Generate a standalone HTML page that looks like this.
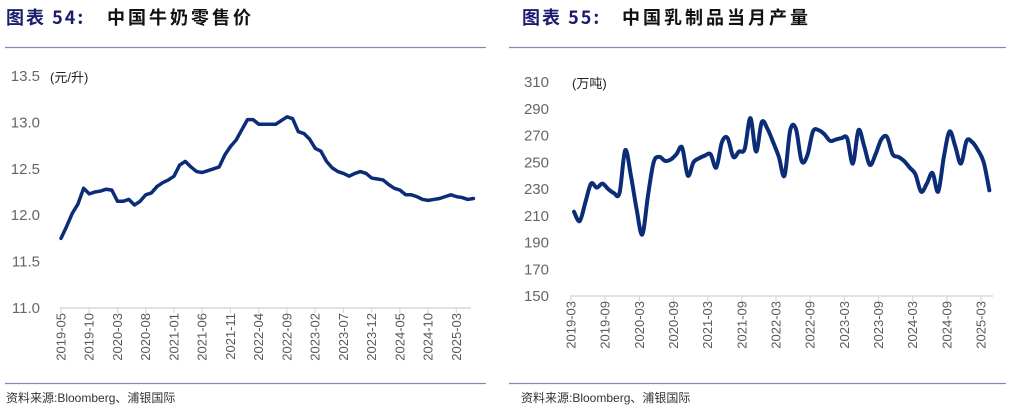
<!DOCTYPE html>
<html><head><meta charset="utf-8"><style>
body{margin:0;background:#fff;width:1012px;height:410px;overflow:hidden}
svg{display:block;font-family:"Liberation Sans","Noto Sans CJK SC",sans-serif}
</style></head><body>
<svg id="c" width="1012" height="410" viewBox="0 0 1012 410" xmlns="http://www.w3.org/2000/svg">
<g>
<text x="6" y="24" font-size="18" font-weight="bold" fill="#1c1c6e" letter-spacing="2" font-family="'Noto Sans CJK SC',sans-serif">图表 54:</text>
<text x="107" y="24" font-size="18" font-weight="bold" fill="#111" letter-spacing="3" font-family="'Noto Sans CJK SC',sans-serif">中国牛奶零售价</text>
<line x1="5" y1="47.5" x2="486" y2="47.5" stroke="#8a86b8" stroke-width="1.3"/>
<line x1="5" y1="383.5" x2="486" y2="383.5" stroke="#8a86b8" stroke-width="1.3"/>
<text x="6" y="402" font-size="12" fill="#333">资料来源:Bloomberg、浦银国际</text>
</g>
<g>
<text x="522" y="24" font-size="18" font-weight="bold" fill="#1c1c6e" letter-spacing="2" font-family="'Noto Sans CJK SC',sans-serif">图表 55:</text>
<text x="622" y="24" font-size="18" font-weight="bold" fill="#111" letter-spacing="3" font-family="'Noto Sans CJK SC',sans-serif">中国乳制品当月产量</text>
<line x1="509" y1="47.5" x2="1006" y2="47.5" stroke="#8a86b8" stroke-width="1.3"/>
<line x1="509" y1="383.5" x2="1006" y2="383.5" stroke="#8a86b8" stroke-width="1.3"/>
<text x="521" y="402" font-size="12" fill="#333">资料来源:Bloomberg、浦银国际</text>
</g>
<g id="L"></g><g id="R"></g>
</svg>
<script>
// Left chart data (monthly from 2019-05)
const milkPrice = [11.75,11.88,12.02,12.12,12.29,12.23,12.25,12.26,12.28,12.27,12.15,12.15,12.17,12.11,12.15,12.22,12.24,12.31,12.35,12.38,12.42,12.54,12.58,12.52,12.47,12.46,12.48,12.50,12.52,12.65,12.74,12.81,12.92,13.03,13.03,12.98,12.98,12.98,12.98,13.02,13.06,13.04,12.90,12.88,12.82,12.72,12.69,12.58,12.51,12.47,12.45,12.42,12.45,12.47,12.45,12.40,12.39,12.38,12.33,12.29,12.27,12.22,12.22,12.20,12.17,12.16,12.17,12.18,12.20,12.22,12.20,12.19,12.17,12.18];
const leftYTicks = [11.0,11.5,12.0,12.5,13.0,13.5];
const leftXLabels = ["2019-05","2019-10","2020-03","2020-08","2021-01","2021-06","2021-11","2022-04","2022-09","2023-02","2023-07","2023-12","2024-05","2024-10","2025-03"];
// Right chart data (monthly from 2019-03)
const dairyOutput = [213,206,220,234,231,234,230,227,227,259,240,215,196,225,250,254,251,252,256,261,240,250,253,255,256,246,265,268,254,258,260,283,258,280,275,265,254,240,274,275,251,255,273,274,271,266,267,268,268,249,274,262,248,256,267,269,256,254,251,246,241,228,234,242,228,254,273,262,249,266,265,259,250,229];
const rightYTicks = [150,170,190,210,230,250,270,290,310];
const rightXLabels = ["2019-03","2019-09","2020-03","2020-09","2021-03","2021-09","2022-03","2022-09","2023-03","2023-09","2024-03","2024-09","2025-03"];

const NS="http://www.w3.org/2000/svg";
function mk(p,t,a){const e=document.createElementNS(NS,t);for(const k in a)e.setAttribute(k,a[k]);p.appendChild(e);return e;}
function smooth(pts){let d="M"+pts[0][0]+","+pts[0][1];for(let i=0;i<pts.length-1;i++){const p0=pts[i-1]||pts[i],p1=pts[i],p2=pts[i+1],p3=pts[i+2]||p2;d+=" C"+(p1[0]+(p2[0]-p0[0])/6)+","+(p1[1]+(p2[1]-p0[1])/6)+" "+(p2[0]-(p3[0]-p1[0])/6)+","+(p2[1]-(p3[1]-p1[1])/6)+" "+p2[0]+","+p2[1];}return d;}

function chart(g,o){
  const y=v=>o.y0-(v-o.ymin)/(o.ymax-o.ymin)*(o.y0-o.y1);
  const x=i=>o.dx0+i*o.pm;
  let e=mk(g,"line",{x1:o.ax0,y1:o.y0,x2:o.ax1,y2:o.y0,stroke:"#d9d9d9","stroke-width":1.5});
  
  
  o.yt.forEach(v=>{const t=mk(g,"text",{x:o.ylx,y:y(v)+5,"font-size":15,fill:"#666","text-anchor":"end"});t.textContent=o.fmt(v);
    
    });
  o.xl.forEach((s,i)=>{const xx=o.tx0+i*o.tstep;mk(g,"line",{x1:xx,y1:o.y0,x2:xx,y2:o.y0+5,stroke:"#d9d9d9","stroke-width":1.2});
    const t=mk(g,"text",{x:0,y:0,"font-size":13,fill:"#595959","text-anchor":"end",transform:`translate(${xx+4.5},${o.y0+5}) rotate(-90)`});t.textContent=s;
    
    });
  const u=mk(g,"text",{x:o.ux,y:o.uy,"font-size":13,fill:"#222"});u.textContent=o.unit;
  
  
  const pts=o.data.map((v,i)=>[x(i),y(v)]);
  const p=mk(g,"path",{d:o.sm?smooth(pts):("M"+pts.map(q=>q.join(",")).join(" L")),fill:"none",stroke:"#0b2d78","stroke-width":o.sw,"stroke-linejoin":"round","stroke-linecap":"round"});
  
  
}
chart(document.getElementById("L"),{data:milkPrice,ymin:11,ymax:13.5,y0:308,y1:76,ax0:60,ax1:471,ylx:40,yt:leftYTicks,fmt:v=>v.toFixed(1),xl:leftXLabels,tx0:61,tstep:28.24,dx0:61,pm:5.65,unit:"(元/升)",ux:50,uy:82,sw:3.5,sm:false});
chart(document.getElementById("R"),{data:dairyOutput,ymin:150,ymax:310,y0:296,y1:82,ax0:570,ax1:993,ylx:549,yt:rightYTicks,fmt:v=>String(v),xl:rightXLabels,tx0:571,tstep:34.17,dx0:574,pm:5.69,unit:"(万吨)",ux:572,uy:88,sw:4,sm:true});
</script>
</body></html>
